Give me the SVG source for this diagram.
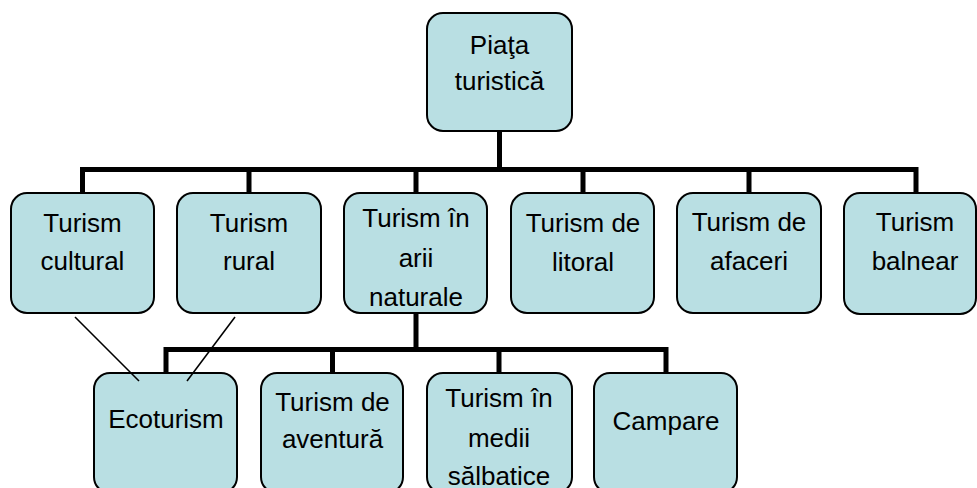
<svg xmlns="http://www.w3.org/2000/svg" width="977" height="488" viewBox="0 0 977 488">
<style>
.box{fill:#B9DFE3;stroke:#000;stroke-width:2}
.t{font-family:"Liberation Sans",Arial,sans-serif;font-size:26px;fill:#000;text-anchor:middle}
.thick{stroke:#000;stroke-width:5;fill:none;stroke-linecap:butt}
.thin{stroke:#000;stroke-width:1.6;fill:none}
</style>
<rect width="977" height="488" fill="#fff"/>
<g id="connectors">
<path class="thick" d="M499.5,131 V169.5 M82.5,193 V169.5 H916 V193 M249,169.5 V193 M416,169.5 V193 M583,169.5 V193 M749,169.5 V193"/>
<path class="thick" d="M416,313 V349.5 M166,373 V349.5 H666 V373 M332.5,349.5 V373 M499,349.5 V373"/>
</g>
<g id="n0"><rect class="box" x="427" y="13" width="145" height="118" rx="16"/><text class="t" x="499.5" y="54">Piaţa</text><text class="t" x="499.5" y="90">turistică</text></g>
<g id="n1"><rect class="box" x="11" y="193" width="143" height="120" rx="16"/><text class="t" x="82.5" y="232">Turism</text><text class="t" x="82.5" y="270">cultural</text></g>
<g id="n2"><rect class="box" x="177" y="193" width="144" height="120" rx="16"/><text class="t" x="249" y="232">Turism</text><text class="t" x="249" y="270">rural</text></g>
<g id="n3"><rect class="box" x="344" y="193" width="143" height="120" rx="16"/><text class="t" x="416" y="227">Turism în</text><text class="t" x="416" y="267">arii</text><text class="t" x="416" y="306">naturale</text></g>
<g id="n4"><rect class="box" x="511" y="193" width="143" height="120" rx="16"/><text class="t" x="583" y="232">Turism de</text><text class="t" x="583" y="271">litoral</text></g>
<g id="n5"><rect class="box" x="677" y="193" width="144" height="120" rx="16"/><text class="t" x="749" y="231">Turism de</text><text class="t" x="749" y="270">afaceri</text></g>
<g id="n6"><rect class="box" x="844" y="193" width="132" height="121" rx="16"/><text class="t" x="915" y="231">Turism</text><text class="t" x="915" y="270">balnear</text></g>
<g id="n7"><rect class="box" x="94" y="373" width="143" height="120" rx="16"/><text class="t" x="166" y="428">Ecoturism</text></g>
<g id="n8"><rect class="box" x="261" y="373" width="142" height="120" rx="16"/><text class="t" x="332.5" y="411">Turism de</text><text class="t" x="332.5" y="448">aventură</text></g>
<g id="n9"><rect class="box" x="427" y="373" width="145" height="120" rx="16"/><text class="t" x="499" y="407">Turism în</text><text class="t" x="499" y="447">medii</text><text class="t" x="499" y="485">sălbatice</text></g>
<g id="n10"><rect class="box" x="594" y="373" width="143" height="120" rx="16"/><text class="t" x="666" y="430">Campare</text></g>
<g id="links">
<line class="thin" x1="75" y1="317" x2="139" y2="381"/>
<line class="thin" x1="235" y1="317" x2="187" y2="381"/>
</g>
</svg>
